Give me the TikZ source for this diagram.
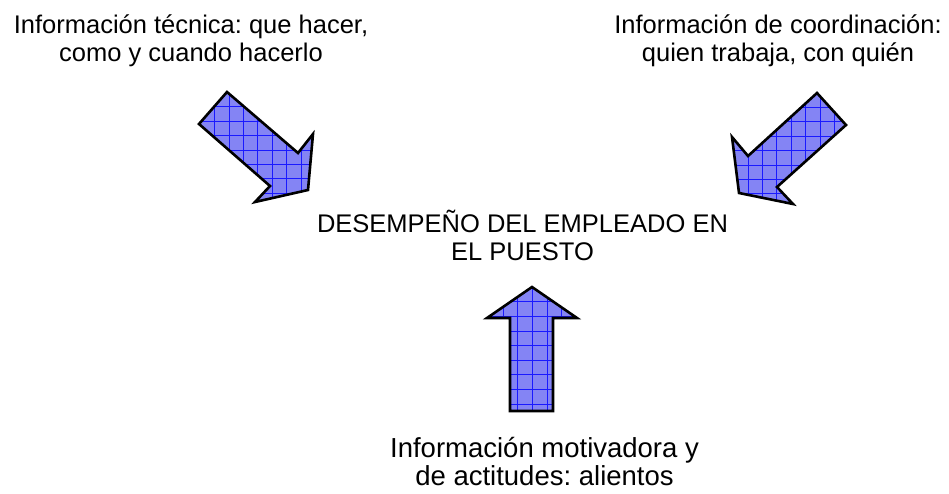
\documentclass[tikz,border=0pt]{standalone}
\usepackage{fontspec}
\setmainfont{Liberation Sans}
\frenchspacing
\begin{document}
\begin{tikzpicture}[x=1pt,y=-1pt,
  lbl/.style={inner sep=0pt, align=center, anchor=base, font=\fontsize{25.5}{28}\selectfont},
  lblb/.style={inner sep=0pt, align=center, anchor=base, font=\fontsize{27.5}{28}\selectfont},
  arrowfill/.style={fill={rgb,255:red,132;green,132;blue,244}},
  gridline/.style={draw={rgb,255:red,25;green,25;blue,255}, line width=0.7pt},
  outline/.style={draw=black, line width=2.6pt, line join=miter}]
\useasboundingbox[fill=white] (0,0) rectangle (949,493);

% Left arrow
\begin{scope}
  \clip (227,92) -- (298,153) -- (313,134) -- (308,190) -- (255,202) -- (270,186) -- (199,124) -- cycle;
  \fill[arrowfill] (150,50) rectangle (350,250);
  \foreach \i in {-6,...,8} {
    \draw[gridline] ({229+\i*14.4},50) -- ({229+\i*14.4},250);
    \draw[gridline] (150,{106.7+\i*14.4}) -- (350,{106.7+\i*14.4});
  }
\end{scope}
\draw[outline] (227,92) -- (298,153) -- (313,134) -- (308,190) -- (255,202) -- (270,186) -- (199,124) -- cycle;

% Right arrow
\begin{scope}
  \clip (817,93) -- (846,125) -- (777,187) -- (793,204) -- (739,193) -- (732,137) -- (748,156) -- cycle;
  \fill[arrowfill] (700,50) rectangle (900,250);
  \foreach \i in {-6,...,8} {
    \draw[gridline] ({762.3+\i*14.4},50) -- ({762.3+\i*14.4},250);
    \draw[gridline] (700,{121.7+\i*14.4}) -- (900,{121.7+\i*14.4});
  }
\end{scope}
\draw[outline] (817,93) -- (846,125) -- (777,187) -- (793,204) -- (739,193) -- (732,137) -- (748,156) -- cycle;

% Up arrow
\begin{scope}
  \clip (532,287) -- (577,318) -- (553,318) -- (553,411) -- (510,411) -- (510,318) -- (487,318) -- cycle;
  \fill[arrowfill] (470,270) rectangle (600,430);
  \foreach \i in {-6,...,10} {
    \draw[gridline] ({517.7+\i*14.6},270) -- ({517.7+\i*14.6},430);
    \draw[gridline] (470,{301.7+\i*14.6}) -- (600,{301.7+\i*14.6});
  }
\end{scope}
\draw[outline] (532,287) -- (577,318) -- (553,318) -- (553,411) -- (510,411) -- (510,318) -- (487,318) -- cycle;

% Texts (base anchor = baseline of the last line)
\node[lbl] (tecnica) at (191,61) {Información técnica: que hacer,\\como y cuando hacerlo};
\node[lbl] (coord) at (778,61) {Información de coordinación:\\quien trabaja, con quién};
\node[lbl] (desemp) at (522.5,260) {DESEMPEÑO DEL EMPLEADO EN\\EL PUESTO};
\node[lblb] (motiv) at (544.5,485) {Información motivadora y\\de actitudes: alientos};
\end{tikzpicture}
\end{document}
